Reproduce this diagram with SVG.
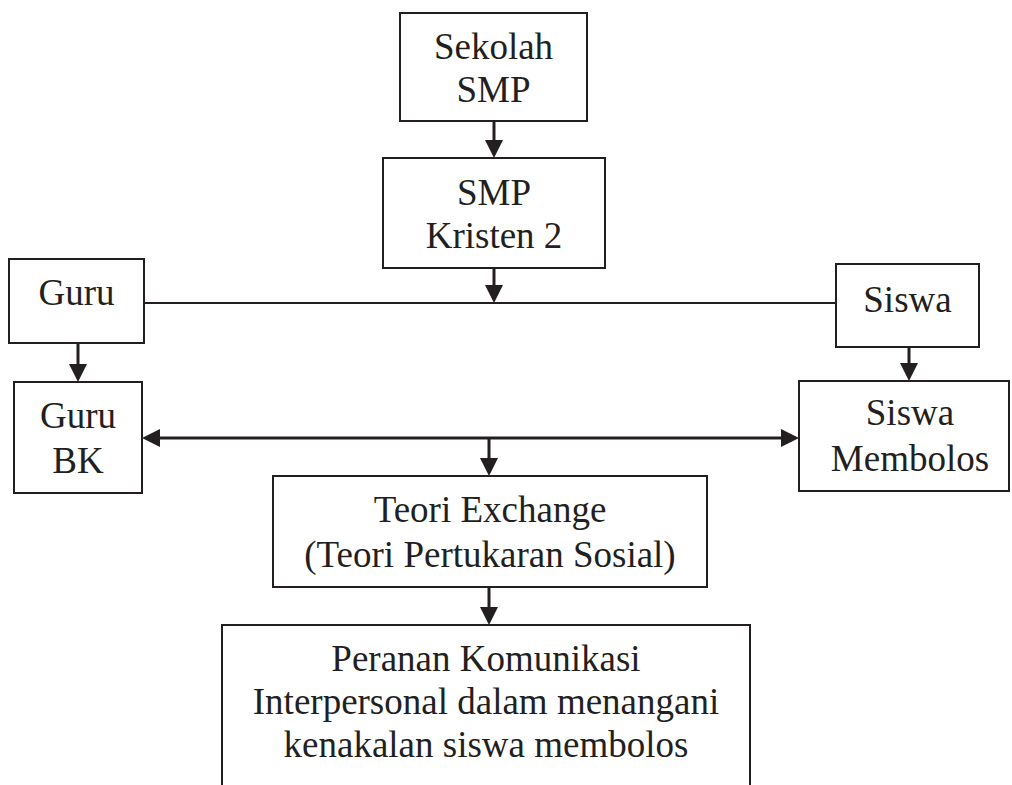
<svg xmlns="http://www.w3.org/2000/svg" width="1012" height="785" viewBox="0 0 1012 785">
<style>
.box{fill:#fff;stroke:#231f20;stroke-width:2}
.t{font-family:"Liberation Serif","Times New Roman",serif;font-size:37px;fill:#231f20;text-anchor:middle}
.c{stroke:#231f20;stroke-width:3;fill:none}
.thin{stroke:#231f20;stroke-width:2;fill:none}
</style>
<defs>
<marker id="ah" markerUnits="userSpaceOnUse" markerWidth="18" markerHeight="18" viewBox="0 0 18 18" refX="10" refY="9" orient="auto-start-reverse">
<path d="M0,0 L18,9 L0,18 z" fill="#231f20"/>
</marker>
</defs>
<rect width="1012" height="785" fill="#fff"/>
<g id="connectors">
<line class="c" x1="494" y1="121" x2="494" y2="150" marker-end="url(#ah)"/>
<line class="c" x1="494" y1="268" x2="494" y2="295" marker-end="url(#ah)"/>
<line class="thin" x1="144" y1="303" x2="836" y2="303"/>
<line class="c" x1="78" y1="343" x2="78" y2="374" marker-end="url(#ah)"/>
<line class="c" x1="909" y1="347" x2="909" y2="373" marker-end="url(#ah)"/>
<line class="c" x1="150" y1="438" x2="791" y2="438" marker-start="url(#ah)" marker-end="url(#ah)"/>
<line class="c" x1="489" y1="437" x2="489" y2="468" marker-end="url(#ah)"/>
<line class="c" x1="489" y1="587" x2="489" y2="617" marker-end="url(#ah)"/>
</g>
<g id="sekolah-smp">
<rect class="box" x="400" y="13" width="187" height="108"/>
<text class="t" x="493.5" y="59">Sekolah</text>
<text class="t" x="493.5" y="102">SMP</text>
</g>
<g id="smp-kristen-2">
<rect class="box" x="383" y="158" width="222" height="110"/>
<text class="t" x="494" y="205">SMP</text>
<text class="t" x="494" y="248">Kristen 2</text>
</g>
<g id="guru">
<rect class="box" x="9" y="259" width="135" height="84"/>
<text class="t" x="76.5" y="305">Guru</text>
</g>
<g id="siswa">
<rect class="box" x="836" y="264" width="143" height="83"/>
<text class="t" x="907.5" y="312">Siswa</text>
</g>
<g id="guru-bk">
<rect class="box" x="14" y="382" width="128" height="111"/>
<text class="t" x="78" y="428">Guru</text>
<text class="t" x="78" y="473">BK</text>
</g>
<g id="siswa-membolos">
<rect class="box" x="799" y="381" width="210" height="110"/>
<text class="t" x="910" y="425">Siswa</text>
<text class="t" x="910" y="471">Membolos</text>
</g>
<g id="teori-exchange">
<rect class="box" x="273" y="476" width="434" height="111"/>
<text class="t" x="490" y="522">Teori Exchange</text>
<text class="t" x="490" y="567">(Teori Pertukaran Sosial)</text>
</g>
<g id="peranan">
<rect class="box" x="222" y="625" width="528" height="200"/>
<text class="t" x="486" y="671">Peranan Komunikasi</text>
<text class="t" x="486" y="714">Interpersonal dalam menangani</text>
<text class="t" x="486" y="757">kenakalan siswa membolos</text>
</g>
</svg>
